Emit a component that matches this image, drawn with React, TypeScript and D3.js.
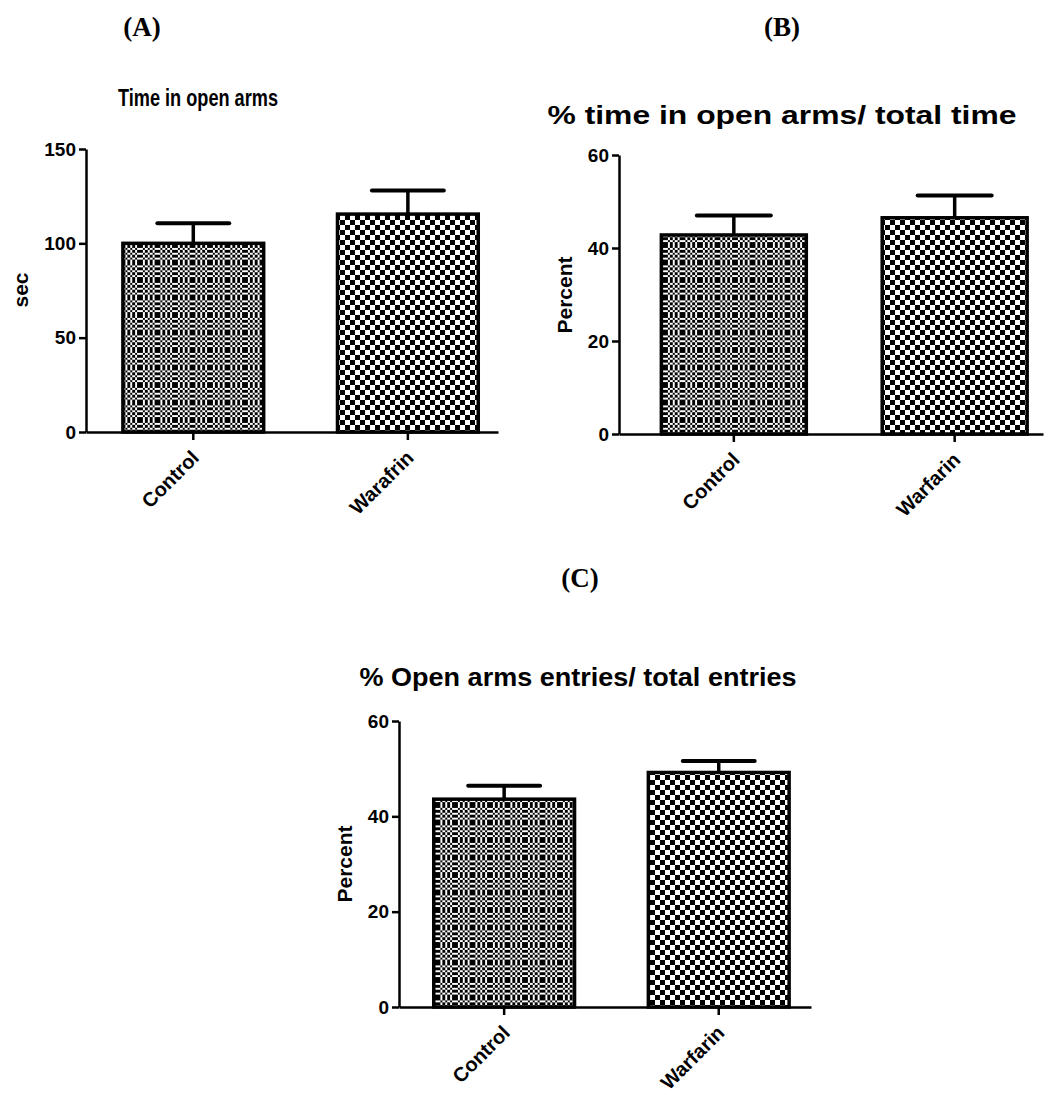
import { useEffect, useRef } from "react";
import * as d3 from "d3";

// groups (panel A label is spelled as in the source figure)
const groupsA = ["Control", "Warafrin"];
const groupsBC = ["Control", "Warfarin"];

// (A) time in open arms, sec
const timeMean = [100, 115.5];
const timeErr = [10.6, 12.5];
// (B) % time in open arms / total time
const pctTimeMean = [42.8, 46.5];
const pctTimeErr = [4.2, 4.8];
// (C) % open arms entries / total entries
const pctEntryMean = [43.6, 49.2];
const pctEntryErr = [2.8, 2.4];

const ticksSec = [0, 50, 100, 150];
const ticksPct = [0, 20, 40, 60];

const W = 1057;
const H = 1095;

const panels = [
  {
    cats: groupsA, mean: timeMean, err: timeErr, ticks: ticksSec, max: 150,
    title: "Time in open arms", ylabel: "sec",
    x0: 86, x1: 498, yTop: 149, yBot: 432, align: 0.66,
    titleX: 198, titleY: 106, titleLen: 160, titleSize: 24, ylabX: 28, ylabY: 290,
  },
  {
    cats: groupsBC, mean: pctTimeMean, err: pctTimeErr, ticks: ticksPct, max: 60,
    title: "% time in open arms/ total time", ylabel: "Percent",
    x0: 619, x1: 1043, yTop: 155, yBot: 434, align: 0.74,
    titleX: 782, titleY: 124, titleLen: 469, titleSize: 26, ylabX: 572, ylabY: 295,
  },
  {
    cats: groupsBC, mean: pctEntryMean, err: pctEntryErr, ticks: ticksPct, max: 60,
    title: "% Open arms entries/ total entries", ylabel: "Percent",
    x0: 399, x1: 811, yTop: 721, yBot: 1007, align: 0.62,
    titleX: 578, titleY: 686, titleLen: 437, titleSize: 26, ylabX: 352, ylabY: 864,
  },
];

const tags = [
  { text: "(A)", x: 142, y: 36 },
  { text: "(B)", x: 782, y: 36 },
  { text: "(C)", x: 580, y: 587 },
];

const App = () => {
  const ref = useRef<SVGSVGElement>(null);

  useEffect(() => {
    document.body.style.margin = "0";
    const svg = d3.select(ref.current);
    svg.selectAll("*").remove();

    // checker fills: fine one for Control, coarse one for Warfarin
    const defs = svg.append("defs");
    const fine = defs.append("pattern").attr("id", "fine")
      .attr("patternUnits", "userSpaceOnUse")
      .attr("width", 17.5).attr("height", 17.5);
    fine.append("rect").attr("width", 17.5).attr("height", 17.5).attr("fill", "#fff");
    for (let i = 0; i < 7; i++) {
      for (let j = 0; j < 7; j++) {
        if ((i + j) % 2 === 0) {
          fine.append("rect").attr("x", i * 2.5).attr("y", j * 2.5)
            .attr("width", 2.5).attr("height", 2.5).attr("fill", "#000")
            .attr("shape-rendering", "crispEdges");
        }
      }
    }
    const coarse = defs.append("pattern").attr("id", "coarse")
      .attr("patternUnits", "userSpaceOnUse")
      .attr("width", 10).attr("height", 10);
    coarse.append("rect").attr("width", 10).attr("height", 10).attr("fill", "#fff");
    coarse.append("rect").attr("width", 5).attr("height", 5).attr("fill", "#000");
    coarse.append("rect").attr("x", 5).attr("y", 5).attr("width", 5).attr("height", 5).attr("fill", "#000");

    const font = "'Liberation Sans', Arial, sans-serif";

    tags.forEach((t) => {
      svg.append("text")
        .attr("x", t.x).attr("y", t.y)
        .attr("text-anchor", "middle")
        .attr("font-family", "'Liberation Serif', 'Times New Roman', serif")
        .attr("font-weight", "bold").attr("font-size", 27)
        .text(t.text);
    });

    panels.forEach((p) => {
      const g = svg.append("g");
      const x = d3.scaleBand().domain(p.cats).range([p.x0, p.x1])
        .paddingInner(0.33).paddingOuter(0.125).align(p.align);
      const y = d3.scaleLinear().domain([0, p.max]).range([p.yBot, p.yTop]);
      const bw = x.bandwidth();

      g.selectAll(".bar").data(p.cats).enter().append("rect")
        .attr("x", (d) => x(d)! + 1.5)
        .attr("y", (d, i) => y(p.mean[i]))
        .attr("width", bw - 3)
        .attr("height", (d, i) => p.yBot - y(p.mean[i]))
        .attr("fill", (d, i) => (i === 0 ? "url(#fine)" : "url(#coarse)"))
        .attr("stroke", "#000").attr("stroke-width", 3.5);

      // error bars (upper only)
      g.selectAll(".stem").data(p.cats).enter().append("line")
        .attr("x1", (d) => x(d)! + bw / 2).attr("x2", (d) => x(d)! + bw / 2)
        .attr("y1", (d, i) => y(p.mean[i])).attr("y2", (d, i) => y(p.mean[i] + p.err[i]))
        .attr("stroke", "#000").attr("stroke-width", 3.5);
      g.selectAll(".cap").data(p.cats).enter().append("line")
        .attr("x1", (d) => x(d)! + bw / 4).attr("x2", (d) => x(d)! + (3 * bw) / 4)
        .attr("y1", (d, i) => y(p.mean[i] + p.err[i])).attr("y2", (d, i) => y(p.mean[i] + p.err[i]))
        .attr("stroke", "#000").attr("stroke-width", 4).attr("stroke-linecap", "round");

      const yAxis = g.append("g").attr("transform", `translate(${p.x0},0)`)
        .call(d3.axisLeft(y).tickValues(p.ticks).tickSize(7).tickPadding(3).tickSizeOuter(0));
      yAxis.select(".domain").attr("stroke-width", 2.5);
      yAxis.selectAll(".tick line").attr("stroke-width", 2.5);
      yAxis.selectAll(".tick text")
        .attr("font-family", font).attr("font-weight", "bold").attr("font-size", 19).attr("fill", "#000");

      const xAxis = g.append("g").attr("transform", `translate(0,${p.yBot})`)
        .call(d3.axisBottom(x).tickSize(8).tickSizeOuter(0));
      xAxis.select(".domain").attr("stroke-width", 2.5);
      xAxis.selectAll(".tick line").attr("stroke-width", 2.5);
      xAxis.selectAll(".tick text")
        .attr("font-family", font).attr("font-weight", "bold").attr("font-size", 20).attr("fill", "#000")
        .attr("text-anchor", "end").attr("dy", null)
        .attr("y", null)
        .attr("transform", "translate(7,27) rotate(-45)");

      g.append("text")
        .attr("x", p.titleX).attr("y", p.titleY)
        .attr("text-anchor", "middle")
        .attr("font-family", font).attr("font-weight", "bold").attr("font-size", p.titleSize)
        .attr("textLength", p.titleLen).attr("lengthAdjust", "spacingAndGlyphs")
        .text(p.title);

      g.append("text")
        .attr("transform", `translate(${p.ylabX},${p.ylabY}) rotate(-90)`)
        .attr("text-anchor", "middle")
        .attr("font-family", font).attr("font-weight", "bold").attr("font-size", 21)
        .text(p.ylabel);
    });
  }, []);

  return <svg ref={ref} width={W} height={H} style={{ display: "block", background: "#fff" }} />;
};

export default App;
